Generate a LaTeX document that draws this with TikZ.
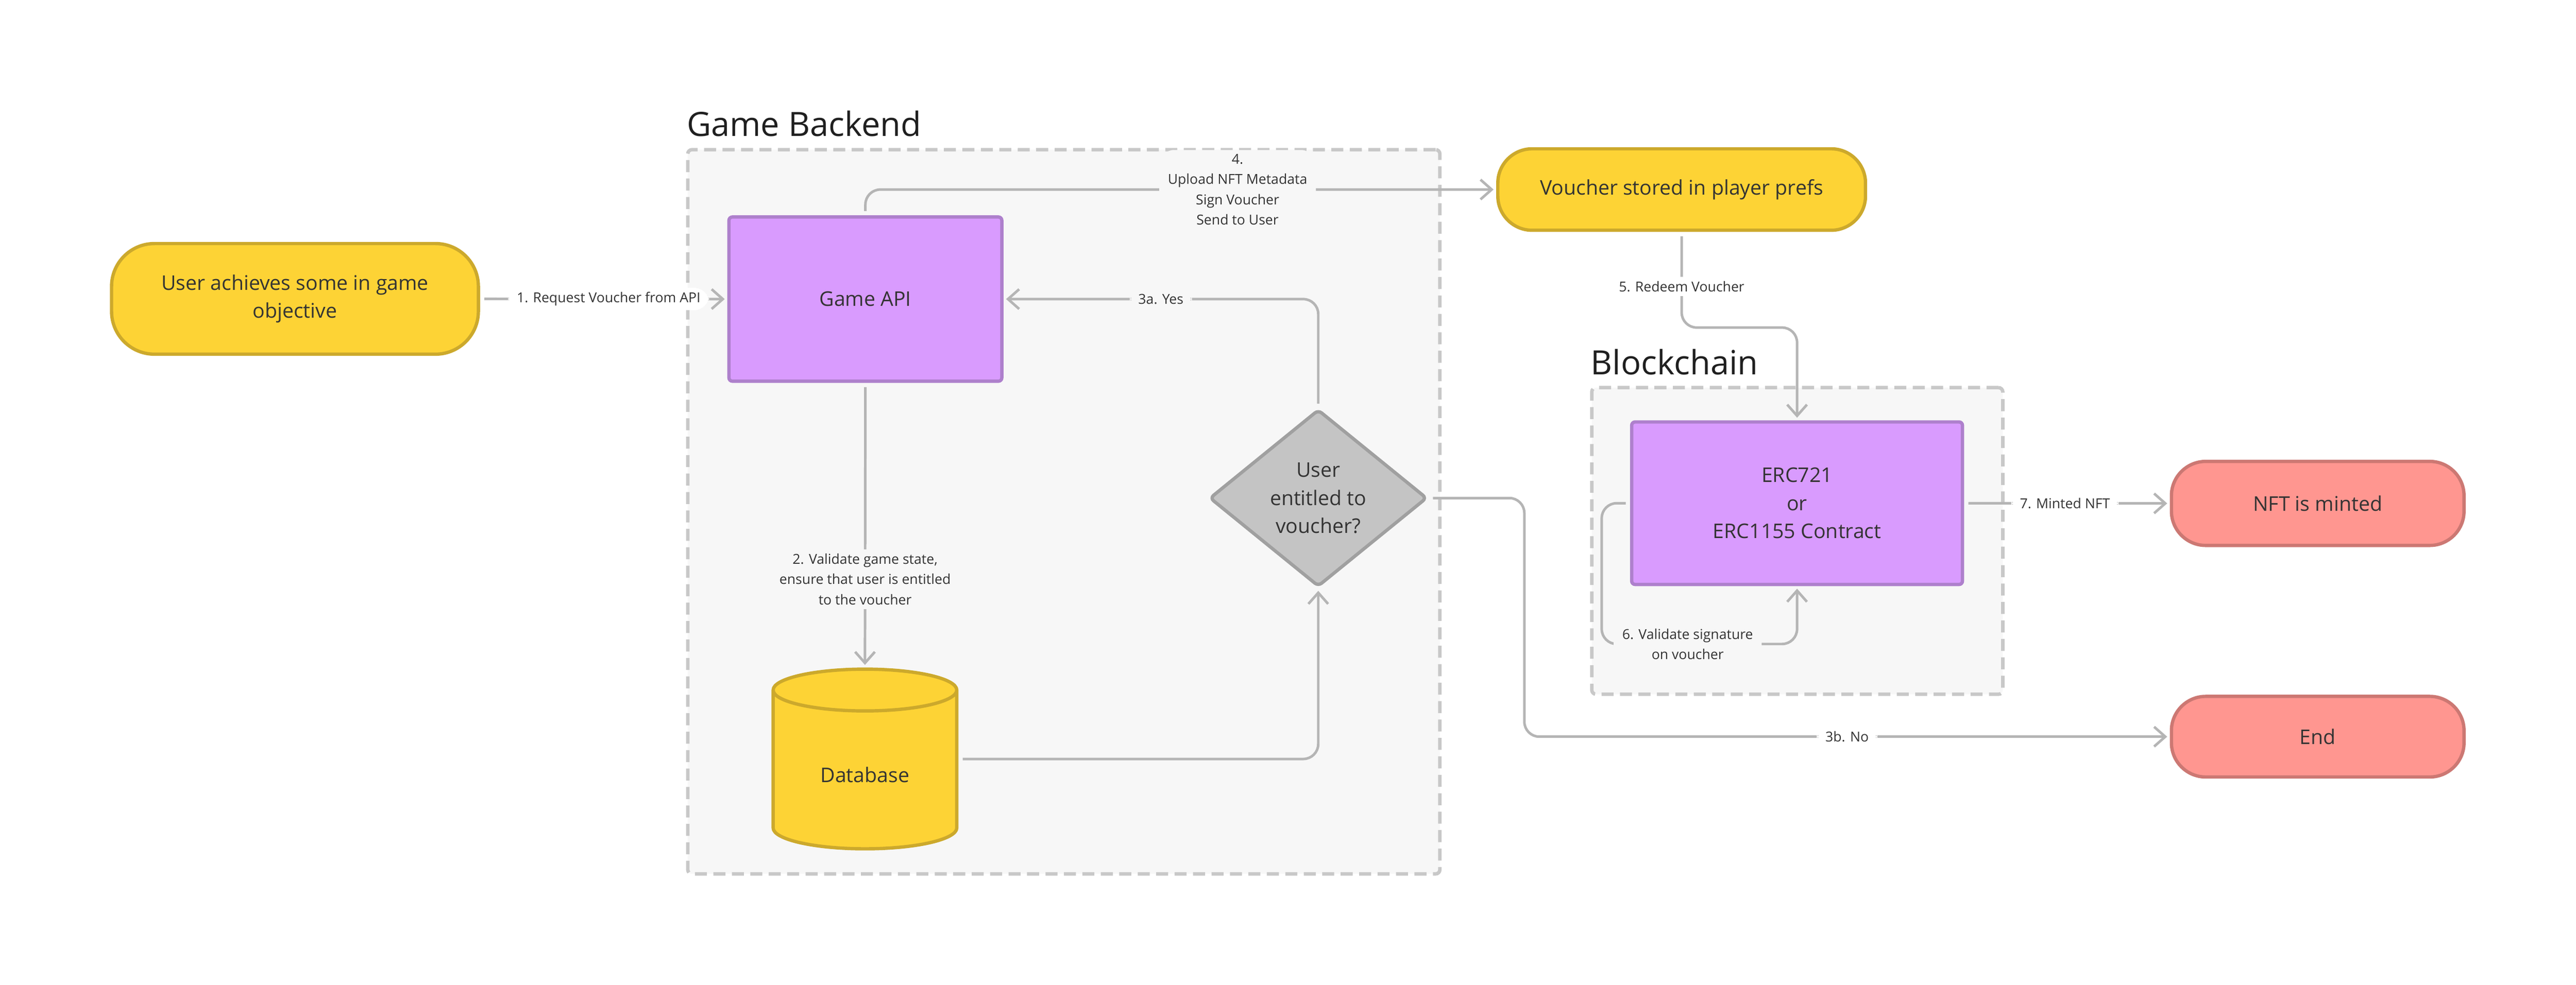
\documentclass[tikz,border=0pt]{standalone}
\usepackage{fontspec}
\setmainfont{Open Sans}
\usepackage{tikz}
\usetikzlibrary{arrows.meta,shapes.geometric}
\definecolor{ylw}{HTML}{FDD335}
\definecolor{ylwline}{HTML}{CCA92C}
\definecolor{prp}{HTML}{D99BFE}
\definecolor{prpline}{HTML}{AE80CC}
\definecolor{slm}{HTML}{FF9690}
\definecolor{slmline}{HTML}{CC7873}
\definecolor{dec}{HTML}{C4C4C4}
\definecolor{decline}{HTML}{A0A0A0}
\definecolor{wirec}{HTML}{B5B5B5}
\definecolor{boxbg}{HTML}{F7F7F7}
\definecolor{boxline}{HTML}{C8C8C8}
\definecolor{txt}{HTML}{333333}
\newcommand{\bigtxt}{\fontsize{13.4}{18.6}\selectfont}
\newcommand{\smalltxt}{\fontsize{9.1}{13.4}\selectfont}
\newcommand{\headtxt}{\fontsize{22.2}{26}\selectfont}

\begin{document}
\begin{tikzpicture}[
		>={Straight Barb[length=2.6mm,width=4.6mm]},
		term/.style={draw, line width=2.2pt, rounded corners=0.8cm, align=center, text=txt, font=\bigtxt, inner sep=0pt},
		proc/.style={draw=prpline, fill=prp, line width=2.2pt, rounded corners=0.08cm, align=center, text=txt, font=\bigtxt, inner sep=0pt},
		group/.style={draw=boxline, fill=boxbg, line width=2.3pt, dash pattern=on 0.28cm off 0.15cm, rounded corners=0.1cm, inner sep=0pt, outer sep=0pt},
		head/.style={anchor=base west, inner sep=0pt, font=\headtxt, text=black!88},
		wire/.style={draw=wirec, line width=1.7pt, rounded corners=0.35cm, ->, shorten <=0.1cm, shorten >=0.06cm},
		lbl/.style={fill=white, text=txt, font=\smalltxt, align=center, inner xsep=0.2cm, inner ysep=0.1cm},
	]
			\useasboundingbox (0,0) rectangle (60.04,-22.97);
			
			\node[group, minimum width=17.53cm, minimum height=16.89cm] (backend) at (24.795,-11.935) {};
			\node[head] (backendhead) at ([xshift=-0.03cm, yshift=0.31cm]backend.north west) {Game Backend};
			\node[group, minimum width=9.58cm, minimum height=7.15cm] (chain) at (41.89,-12.615) {};
			\node[head] (chainhead) at ([xshift=-0.03cm, yshift=0.30cm]chain.north west) {Blockchain};
			
			\node[term, draw=ylwline, fill=ylw, rounded corners=1cm, minimum width=8.55cm, minimum height=2.58cm] (user) at (6.875,-6.97) {User achieves some in game\\objective};
			\node[proc, minimum width=6.36cm, minimum height=3.83cm] (api) at (20.17,-6.975) {Game API};
			\node[term, draw=ylwline, fill=ylw, minimum width=8.57cm, minimum height=1.90cm] (voucher) at (39.195,-4.42) {Voucher stored in player prefs};
			\node[cylinder, shape border rotate=90, aspect=0.47, draw=ylwline, fill=ylw, line width=2.2pt, minimum width=4.28cm, minimum height=4.19cm, inner sep=0pt, text height=0.56cm, text=txt, font=\bigtxt, anchor=shape center] (db) at (20.16,-17.70) {Database};
			\node[diamond, aspect=1.23, draw=decline, fill=dec, line width=2.2pt, rounded corners=0.1cm, minimum width=5.07cm, minimum height=4.13cm, inner sep=0pt, align=center, text=txt, font=\bigtxt] (check) at (30.725,-11.615) {User\\entitled to\\voucher?};
			\node[proc, minimum width=7.71cm, minimum height=3.79cm] (erc) at (41.885,-11.735) {ERC721\\or\\ERC1155 Contract};
			\node[term, draw=slmline, fill=slm, minimum width=6.82cm, minimum height=1.96cm] (minted) at (54.02,-11.74) {NFT is minted};
			\node[term, draw=slmline, fill=slm, minimum width=6.82cm, minimum height=1.88cm] (stop) at (54.02,-17.18) {End};
			
			\draw[wire] (user.east) -- node[lbl, pos=0.52] {1. Request Voucher from API} (api.west);
			\draw[wire] (api.south) -- node[lbl, fill=boxbg, pos=0.69] {2. Validate game state,\\ensure that user is entitled\\to the voucher} (db.north);
			\draw[wire] (db.shape center -| db.east) -| (check.south);
			\draw[wire] (check.north) |- node[lbl, fill=boxbg, pos=0.75] {3a. Yes} (api.east);
			\draw[wire] (check.east) -- ++(2.23,0) |- node[lbl, pos=0.75] {3b. No} (stop.west);
			\draw[wire] (api.north) |- node[lbl, fill=boxbg, pos=0.795] {4.\\Upload NFT Metadata\\Sign Voucher\\Send to User} (voucher.west);
			\draw[wire] (voucher.south) -- node[lbl, pos=0.57] {5. Redeem Voucher} ++(0,-2.23) -| (erc.north);
			\draw[wire] (erc.west) -- ++(-0.66,0) |- node[lbl, fill=boxbg, pos=0.72] {6. Validate signature\\on voucher} ([yshift=-1.35cm]erc.south) -- (erc.south);
			\draw[wire] (erc.east) -- node[lbl, pos=0.49] {7. Minted NFT} (minted.west);
		\end{tikzpicture}
\end{document}
